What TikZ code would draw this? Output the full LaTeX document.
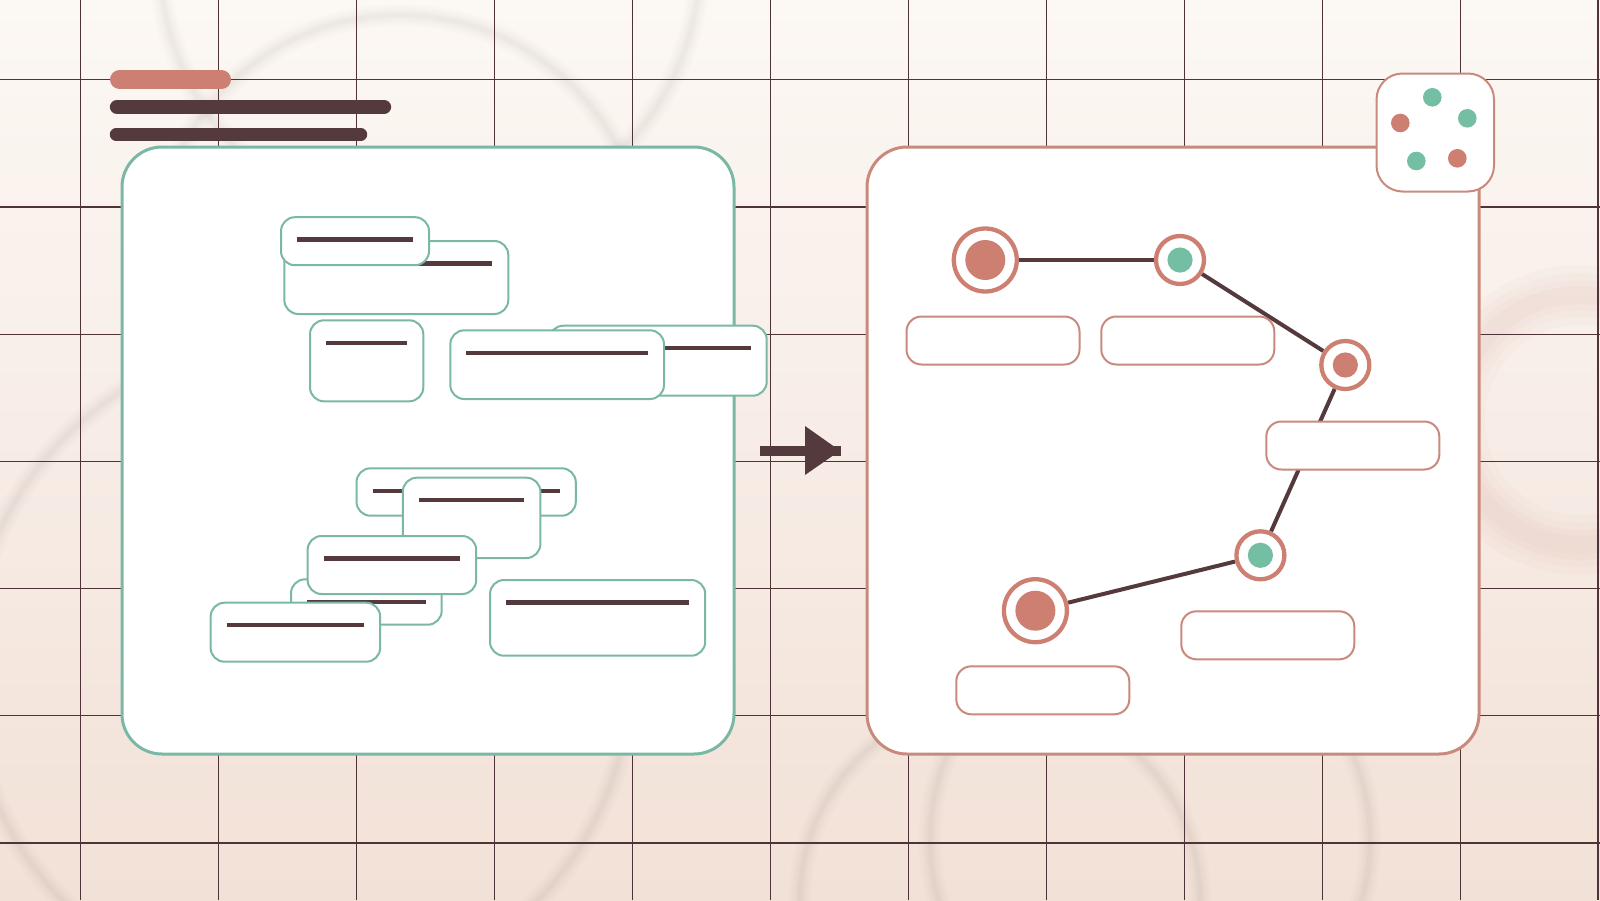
\documentclass[tikz,border=0pt]{standalone}
\definecolor{pinkc}{HTML}{CD7F72}
\definecolor{greenc}{HTML}{74BEA4}
\definecolor{greenl}{HTML}{7AB8A5}
\definecolor{darkc}{HTML}{54393D}
\definecolor{gridc}{HTML}{4E3438}
\definecolor{bgtop}{HTML}{FCF8F4}
\definecolor{bgbot}{HTML}{F2E1D7}
\definecolor{pinkline}{HTML}{C98A7E}
\definecolor{ringc}{HTML}{8A7A72}
\pgfdeclarelayer{bg}
\pgfdeclarelayer{edges}
\pgfsetlayers{bg,edges,main}
\tikzset{
  panel/.style={line width=3pt, fill=white, rounded corners=40pt, inner sep=0pt},
  gbox/.style={draw=greenl, line width=2pt, fill=white, rounded corners=14pt, inner sep=0pt},
  pbox/.style={draw=pinkline, line width=2pt, fill=white, rounded corners=15pt, inner sep=0pt, minimum width=173pt, minimum height=48pt},
  barl/.style={darkc, line width=4.5pt},
  bigring/.style={circle, draw=pinkc, line width=4.3pt, fill=white, inner sep=0pt, minimum size=63pt},
  smallring/.style={circle, draw=pinkc, line width=4.3pt, fill=white, inner sep=0pt, minimum size=48pt},
  edgel/.style={darkc, line width=4pt},
  gridl/.style={gridc, line width=1.2pt},
  dot/.style={circle, inner sep=0pt, minimum size=18.6pt},
}
% soft (blurred-looking) ring: several strokes of falling width
\newcommand\softring[4]{%
  \foreach \w in {22,16,11,7,4} \draw[#4, opacity=0.022, line width=\w pt] (#1,#2) circle (#3);}
\newcommand\gb[5]{%
  \node[gbox, minimum width=#4pt, minimum height=#5pt] (#1) at (#2,#3) {};
  \draw[barl] ([shift={(17pt,-23.5pt)}]#1.north west) -- ([shift={(-17pt,-23.5pt)}]#1.north east);}
\begin{document}
\begin{tikzpicture}[x=1pt, y=-1pt]
\useasboundingbox (0,0) rectangle (1600,900);
\begin{pgfonlayer}{bg}
  \shade[top color=bgtop, bottom color=bgbot] (0,0) rectangle (1600,900);
  % faint decorative rings
  \begin{scope}
    \clip (0,0) rectangle (1600,900);
    \softring{430}{-40}{270}{ringc}
    \softring{400}{260}{245}{ringc}
    \softring{300}{670}{331}{ringc}
    \softring{1150}{840}{220}{ringc}
    \softring{1000}{900}{200}{ringc}
    \foreach \w in {60,44,30,18} \draw[pinkc, opacity=0.03, line width=\w pt] (1580,420) circle (125);
  \end{scope}
  % grid
  \foreach \i in {0,...,11} \draw[gridl] ({80.6+137.95*\i},0) -- ({80.6+137.95*\i},900);
  \foreach \j in {0,...,6} \draw[gridl] (0,{79.7+127.2*\j}) -- (1600,{79.7+127.2*\j});
  % header bars
  \draw[pinkc, line width=19pt, line cap=round] (119.5,79.5) -- (221.5,79.5);
  \draw[darkc, line width=14.3pt, line cap=round] (117,107) -- (384,107);
  \draw[darkc, line width=12.4pt, line cap=round] (116,134.5) -- (361,134.5);
  % panels
  \node[panel, draw=greenl, minimum width=612pt, minimum height=607pt] (L) at (428,450.5) {};
  \node[panel, draw=pinkline, minimum width=612pt, minimum height=607pt] (R) at (1173,450.5) {};
  % arrow between panels
  \fill[darkc] (760,445.7) rectangle (840.7,455.7);
  \fill[darkc] (805,426) -- (805,475) -- (840,450.7) -- cycle;
\end{pgfonlayer}
% left panel boxes
\gb{E}{658}{360.7}{217.4}{70}
\gb{D}{557.15}{364.65}{213.7}{68.7}
\gb{B}{396.3}{277.5}{224}{73}
\gb{A}{355}{241.2}{148}{48}
\gb{C}{366.65}{360.8}{113.3}{81}
\gb{F}{466.15}{492}{219.3}{47.4}
\gb{G}{471.6}{517.85}{137.6}{80.3}
\gb{H}{366.35}{602}{150.7}{45.4}
\gb{I}{391.9}{565}{168.6}{58}
\gb{J}{295.4}{632.2}{169.6}{59}
\gb{K}{597.6}{617.85}{215.2}{75.7}
% right panel label boxes
\node[pbox] (b1) at (993,340.5) {};
\node[pbox] (b2) at (1187.8,340.5) {};
\node[pbox] (b3) at (1352.8,445.5) {};
\node[pbox] (b4) at (1267.8,635.3) {};
\node[pbox] (b5) at (1042.8,690.3) {};
% graph nodes
\node[bigring] (n1) at (985.3,260) {};
\node[smallring] (n2) at (1180,260) {};
\node[smallring] (n3) at (1345.3,365) {};
\node[smallring] (n4) at (1260.4,555.3) {};
\node[bigring] (n5) at (1035.4,610.7) {};
\fill[pinkc] (n1.center) circle (20);
\fill[greenc] (n2.center) circle (12.6);
\fill[pinkc] (n3.center) circle (12.6);
\fill[greenc] (n4.center) circle (12.6);
\fill[pinkc] (n5.center) circle (20);
\begin{pgfonlayer}{edges}
  \draw[edgel] (n1) -- (n2);
  \draw[edgel] (n2) -- (n3);
  \draw[edgel] (n3) -- (n4);
  \draw[edgel] (n4) -- (n5);
\end{pgfonlayer}
% dice badge
\node[draw=pinkline, line width=2pt, fill=white, rounded corners=26pt, inner sep=0pt, minimum width=117.5pt, minimum height=118pt] (dice) at (1435.25,132.5) {};
\node[dot, fill=greenc] (d1) at (1432.3,97.3) {};
\node[dot, fill=greenc] (d2) at (1467.3,118.3) {};
\node[dot, fill=pinkc] (d3) at (1400.3,123) {};
\node[dot, fill=greenc] (d4) at (1416.3,161) {};
\node[dot, fill=pinkc] (d5) at (1457.3,158.3) {};
\end{tikzpicture}
\end{document}
